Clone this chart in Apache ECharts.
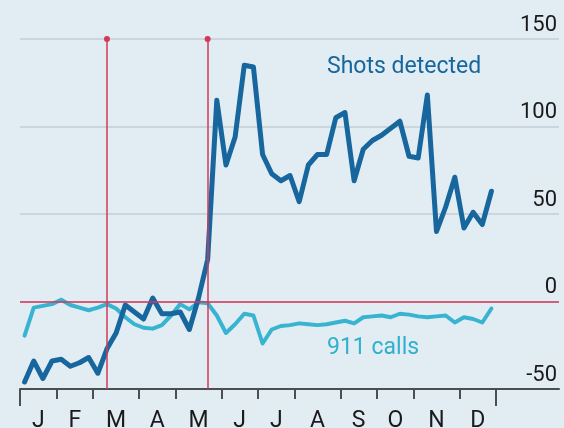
<!DOCTYPE html>
<html>
<head>
<meta charset="utf-8">
<script src="https://cdn.jsdelivr.net/npm/echarts@6/dist/echarts.min.js"></script>
<style>
html,body{margin:0;padding:0;background:#e2ecf3;}
#c{width:564px;height:428px;}
</style>
</head>
<body>
<div id="c"></div>
<script>
// Weekly data, week index 0..51 (plotted at week centre)
const shotsDetected = [-46,-34,-44,-34,-33,-37,-35,-32,-41,-27,-18,-2,-6,-10,2,-7,-7,-6,-16,2,24,115,78,94,135,134,84,73,69,72,57,78,84,84,105,108,69,87,92,95,99,103,83,82,118,40,54,71,42,51,44,63];
const calls911 = [-19.5,-3.5,-2.5,-1.5,1,-2,-3.5,-5,-3.5,-1.5,-4,-9,-13,-15,-15.5,-13.5,-8,-1.5,-4.5,-0.5,-1,-8,-18,-13,-7,-8,-24,-16,-14,-13.5,-12.5,-13,-13.5,-13,-12,-11,-12.5,-9,-8.5,-8,-9,-7,-7.5,-8.5,-9,-8.5,-8,-12,-9,-10,-12,-4];
const monthLabels = ['J','F','M','A','M','J','J','A','S','O','N','D'];
const monthWeeks = [4,4,5,4,5,4,4,5,4,4,5,4];
const eventWeeks = [9.5, 20.5];
const yTicks = [-50, 0, 50, 100, 150];

const FONT = "Roboto,'Liberation Sans',sans-serif";
const monthStarts = [0];
monthWeeks.forEach(w => monthStarts.push(monthStarts[monthStarts.length-1] + w));
const monthMids = monthLabels.map((m,i) => (monthStarts[i] + monthStarts[i+1]) / 2);
const totalWeeks = monthStarts[monthStarts.length-1];
const xMax = totalWeeks * 539 / 476;

const toPts = arr => arr.map((v,i) => [i + 0.5, v]);

const chart = echarts.init(document.getElementById('c'), null, {renderer:'canvas'});
chart.setOption({
  backgroundColor: '#e2ecf3',
  animation: false,
  grid: {left: 20, right: 5, top: 39, bottom: 39, containLabel: false, outerBoundsMode: 'none'},
  xAxis: [{
    type: 'value', min: 0, max: xMax,
    axisLine: {show: true, onZero: false, lineStyle: {color: '#4a4f54', width: 2}},
    axisTick: {show: true, customValues: monthStarts.slice(1, -1), length: 10, lineStyle: {color: '#4a4f54', width: 2}},
    axisLabel: {show: true, customValues: monthMids, margin: 21, fontFamily: FONT, fontSize: 23, color: '#1a1a1a',
      formatter: v => { const i = monthMids.indexOf(v); return i >= 0 ? monthLabels[i] : ''; }},
    splitLine: {show: false}
  }, {
    type: 'value', min: 0, max: xMax, position: 'bottom',
    axisLine: {show: false, onZero: false},
    axisTick: {show: true, customValues: [0, totalWeeks], length: 17, lineStyle: {color: '#4a4f54', width: 2}},
    axisLabel: {show: false},
    splitLine: {show: false}
  }],
  yAxis: {
    type: 'value', min: -50, max: 150, interval: 50, position: 'right',
    axisLine: {show: false}, axisTick: {show: false},
    axisLabel: {inside: true, margin: 2, verticalAlign: 'bottom', padding: [0,0,3,0],
      fontFamily: FONT, fontSize: 22, color: '#1a1a1a',
      formatter: v => yTicks.includes(v) ? String(v) : ''},
    splitLine: {show: true, lineStyle: {color: '#c5ced5', width: 1.5}}
  },
  series: [{
    type: 'line', data: [], z: 1,
    markLine: {
      silent: true, animation: false, symbol: 'none',
      label: {show: false},
      lineStyle: {color: '#d2385a', width: 1.5, type: 'solid'},
      data: [
        [{coord: [0, 0]}, {coord: [xMax, 0]}],
        ...eventWeeks.map(w => [
          {coord: [w, -50], symbol: 'none'},
          {coord: [w, 150], symbol: 'circle', symbolSize: 6}
        ])
      ]
    }
  }, {
    name: '911 calls', type: 'line', data: toPts(calls911), z: 3,
    showSymbol: false, symbol: 'none',
    lineStyle: {color: '#38b4d0', width: 4, join: 'round', cap: 'round'}
  }, {
    name: 'Shots detected', type: 'line', data: toPts(shotsDetected), z: 4,
    showSymbol: false, symbol: 'none',
    lineStyle: {color: '#17679e', width: 5, join: 'round', cap: 'round'}
  }],
  graphic: [{
    type: 'text', left: 327, top: 56,
    style: {text: 'Shots detected', fontFamily: FONT, fontSize: 23, fill: '#17679e'}
  }, {
    type: 'text', left: 327, top: 337,
    style: {text: '911 calls', fontFamily: FONT, fontSize: 23, fill: '#2fb0cd'}
  }]
});
</script>
</body>
</html>
